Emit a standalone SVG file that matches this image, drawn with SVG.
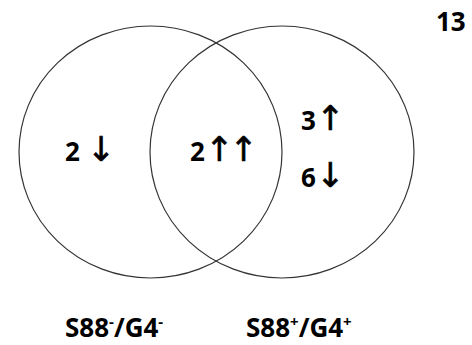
<svg xmlns="http://www.w3.org/2000/svg" width="472" height="345" viewBox="0 0 472 345">
<style>
.c{fill:none;stroke:#333;stroke-width:1.2}
.t{font-family:"Open Sans","Liberation Sans",sans-serif;font-weight:bold;font-size:26px;fill:#000}
.a{font-family:"DejaVu Sans",sans-serif;font-weight:normal;font-size:34px;stroke:#000;stroke-width:0.6;letter-spacing:-4px}
.s{font-size:15px}
</style>
<rect width="472" height="345" fill="#fff"/>
<g id="left-set"><ellipse class="c" cx="150.5" cy="152" rx="131.5" ry="126"/></g>
<g id="right-set"><ellipse class="c" cx="282" cy="152" rx="132" ry="126"/></g>
<g id="connectors"></g>
<g id="labels">
<text class="t" x="65" y="161">2 <tspan class="a">↓</tspan></text>
<text class="t" x="190" y="161">2<tspan class="a">↑↑</tspan></text>
<text class="t" x="301" y="130">3<tspan class="a">↑</tspan></text>
<text class="t" x="301" y="187">6<tspan class="a">↓</tspan></text>
<text class="t" x="436" y="31">13</text>
<text class="t" x="65" y="337">S88<tspan class="s" dy="-10">-</tspan><tspan dy="10">/G4</tspan><tspan class="s" dy="-10">-</tspan></text>
<text class="t" x="246" y="337">S88<tspan class="s" dy="-10">+</tspan><tspan dy="10">/G4</tspan><tspan class="s" dy="-10">+</tspan></text>
</g>
</svg>
